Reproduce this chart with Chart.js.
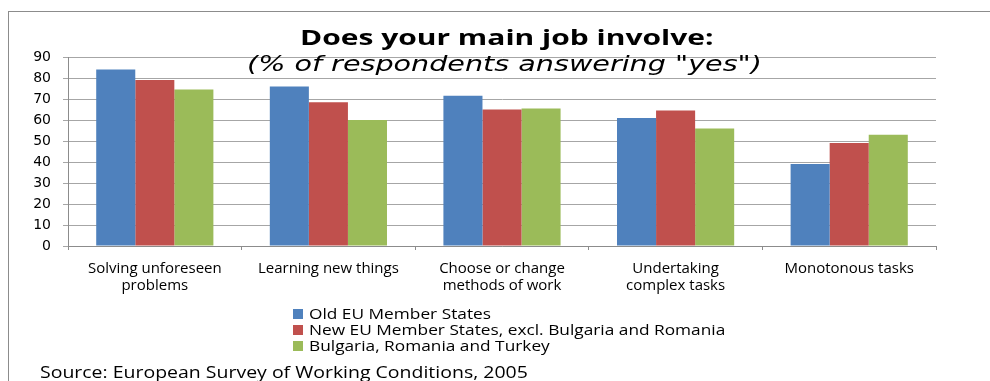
<!DOCTYPE html>
<html>
<head>
<meta charset="utf-8">
<script src="https://cdn.jsdelivr.net/npm/chart.js@4.4.1/dist/chart.umd.min.js"></script>
<style>
  body { margin: 0; background: #fff; }
  #wrap { position: relative; width: 990px; height: 381px; overflow: hidden; }
  #frame { position: absolute; left: 8px; top: 11px; width: 1000px; height: 400px;
           border-top: 1px solid #8c8c8c; border-left: 1px solid #8c8c8c; }
  #chart { position: absolute; left: 0; top: 0; }
  .txt { position: absolute; white-space: nowrap; color: #000; transform-origin: left top; }
  #title { font: bold 21px "Open Sans"; top: 23px; left: 300px; }
  #subtitle { font: italic 22px "DejaVu Sans"; top: 51px; left: 247px; }
  .sq { position: absolute; left: 293px; width: 10px; height: 10px; }
  .leg { font: 15px "Open Sans"; left: 309px; }
  #source { font: 17px "Open Sans"; left: 40px; top: 360px; }
</style>
</head>
<body>
<div id="wrap">
  <div id="frame"></div>
  <canvas id="chart" width="990" height="381"></canvas>
  <div class="txt" id="title">Does your main job involve:</div>
  <div class="txt" id="subtitle">(% of respondents answering "yes")</div>
  <div id="legend"></div>
  <div class="txt" id="source">Source: European Survey of Working Conditions, 2005</div>
</div>
<script>
const categories = [
  ["Solving unforeseen", "problems"],
  "Learning new things",
  ["Choose or change", "methods of work"],
  ["Undertaking", "complex tasks"],
  "Monotonous tasks"
];
const seriesNames = [
  "Old EU Member States",
  "New EU Member States, excl. Bulgaria and Romania",
  "Bulgaria, Romania and Turkey"
];
const oldEU = [84, 76, 71.5, 61, 39];
const newEU = [79, 68.5, 65, 64.5, 49];
const bgRoTr = [74.5, 60, 65.5, 56, 53];
const colors = ["#4f81bd", "#c0504d", "#9bbb59"];

// stretch the overlay texts to the widths seen in the picture
function fitWidth(el, w) {
  const k = w / el.offsetWidth;
  el.style.transform = `scaleX(${k})`;
  return k;
}

const legendBox = document.getElementById("legend");
const legTexts = seriesNames.map((name, i) => {
  const sq = document.createElement("div");
  sq.className = "sq";
  sq.style.top = (309 + i * 16) + "px";
  sq.style.background = colors[i];
  legendBox.appendChild(sq);
  const t = document.createElement("div");
  t.className = "txt leg";
  t.style.top = (303 + i * 16) + "px";
  t.textContent = name;
  legendBox.appendChild(t);
  return t;
});
const legScale = 416 / legTexts[1].offsetWidth;
legTexts.forEach(t => { t.style.transform = `scaleX(${legScale})`; });

new Chart(document.getElementById("chart"), {
  type: "bar",
  data: {
    labels: categories,
    datasets: [oldEU, newEU, bgRoTr].map((d, i) => ({
      label: seriesNames[i],
      data: d,
      backgroundColor: colors[i],
      categoryPercentage: 0.675,
      barPercentage: 1
    }))
  },
  options: {
    responsive: false,
    animation: false,
    layout: { padding: { top: 57, right: 54, left: 0, bottom: 0 } },
    plugins: { legend: { display: false }, tooltip: { enabled: false } },
    scales: {
      x: {
        grid: { drawOnChartArea: false, tickLength: 4, color: "#8c8c8c" },
        border: { color: "#8c8c8c" },
        ticks: { color: "#000", font: { family: "Open Sans", size: 15, lineHeight: 1.15 }, padding: 10, maxRotation: 0 },
        afterFit: s => { s.height = 135; }
      },
      y: {
        min: 0,
        max: 90,
        ticks: { stepSize: 10, color: "#000", font: { family: "DejaVu Sans", size: 14 }, padding: 12 },
        grid: { color: "#a6a6a6", tickLength: 5 },
        border: { color: "#8c8c8c" },
        afterFit: s => { s.width = 68; }
      }
    }
  }
});

fitWidth(document.getElementById("title"), 414);
fitWidth(document.getElementById("subtitle"), 515);
fitWidth(document.getElementById("source"), 488);
</script>
</body>
</html>
